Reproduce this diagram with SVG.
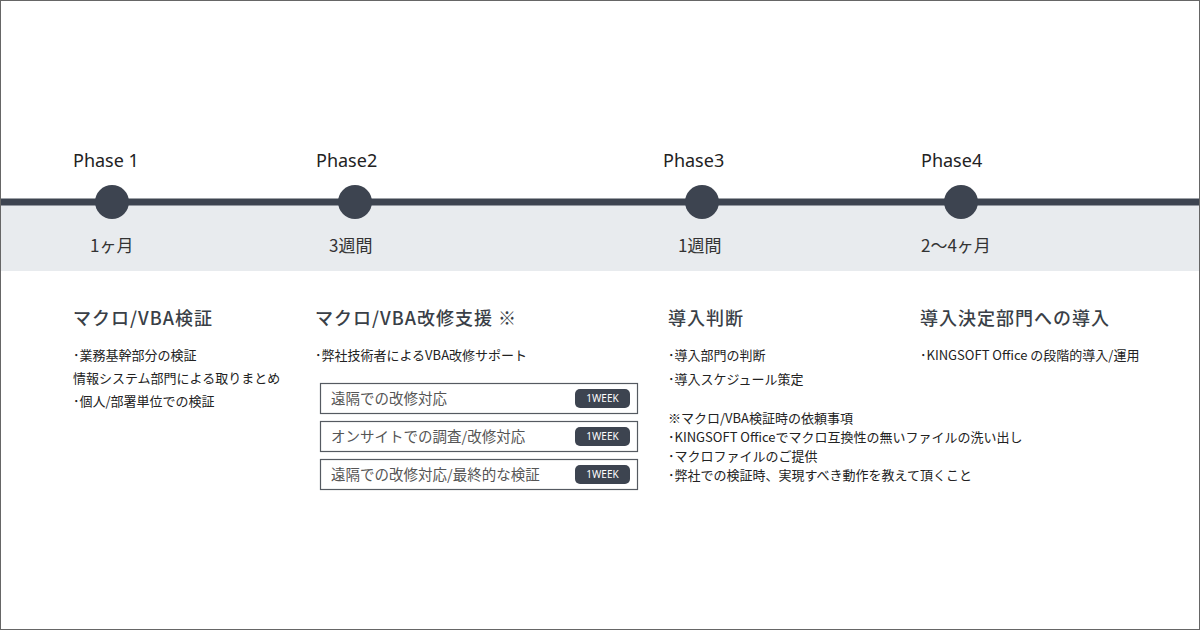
<svg xmlns="http://www.w3.org/2000/svg" width="1200" height="630" viewBox="0 0 1200 630">
<style>
text{font-family:"Noto Sans CJK JP","Noto Sans",sans-serif;fill:#3a3f47}
.ph{font-family:"Noto Sans","Noto Sans CJK JP",sans-serif;font-size:18px;fill:#222}
.dur{font-size:17px;fill:#333}
.h{font-size:18px;font-weight:500;fill:#3a3f47;letter-spacing:1px}
.b{font-size:13px;fill:#222}
.box{fill:#fff;stroke:#555a61;stroke-width:1.2}
.bt{font-size:14.5px;fill:#555}
.tag{fill:#3d4450}
.tt{font-family:"Noto Sans",sans-serif;font-size:10px;fill:#fff}
.dot{fill:#3d4450}
</style>
<rect x="0.5" y="0.5" width="1199" height="629" fill="#fff" stroke="#666" stroke-width="1"/>
<rect x="1" y="204" width="1198" height="67" fill="#e8ebee"/>
<g id="connectors"><line x1="1" y1="202" x2="1199" y2="202" stroke="#3d4450" stroke-width="7"/></g>
<g id="phase1">
<text class="ph" x="73" y="167">Phase 1</text>
<circle class="dot" cx="112" cy="202" r="17"/>
<text class="dur" x="90" y="252">1ヶ月</text>
<text class="h" x="73" y="325">マクロ/VBA検証</text>
<text class="b" x="73" y="360">･業務基幹部分の検証</text>
<text class="b" x="73" y="383">情報システム部門による取りまとめ</text>
<text class="b" x="73" y="406">･個人/部署単位での検証</text>
</g>
<g id="phase2">
<text class="ph" x="316" y="167">Phase2</text>
<circle class="dot" cx="355" cy="202" r="17"/>
<text class="dur" x="329" y="252">3週間</text>
<text class="h" x="315" y="325">マクロ/VBA改修支援 ※</text>
<text class="b" x="315" y="360">･弊社技術者によるVBA改修サポート</text>
<rect class="box" x="320.5" y="383.5" width="317" height="30"/>
<text class="bt" x="331" y="404">遠隔での改修対応</text>
<rect class="tag" x="575" y="389" width="55" height="19" rx="5"/>
<text class="tt" x="602.5" y="402" text-anchor="middle">1WEEK</text>
<rect class="box" x="320.5" y="421.5" width="317" height="30"/>
<text class="bt" x="331" y="442">オンサイトでの調査/改修対応</text>
<rect class="tag" x="575" y="427" width="55" height="19" rx="5"/>
<text class="tt" x="602.5" y="440" text-anchor="middle">1WEEK</text>
<rect class="box" x="320.5" y="459.5" width="317" height="30"/>
<text class="bt" x="331" y="480">遠隔での改修対応/最終的な検証</text>
<rect class="tag" x="575" y="465" width="55" height="19" rx="5"/>
<text class="tt" x="602.5" y="478" text-anchor="middle">1WEEK</text>
</g>
<g id="phase3">
<text class="ph" x="663" y="167">Phase3</text>
<circle class="dot" cx="702" cy="202" r="17"/>
<text class="dur" x="678" y="252">1週間</text>
<text class="h" x="668" y="325">導入判断</text>
<text class="b" x="668" y="360">･導入部門の判断</text>
<text class="b" x="668" y="384">･導入スケジュール策定</text>
<text class="b" x="668" y="423">※マクロ/VBA検証時の依頼事項</text>
<text class="b" x="668" y="442">･KINGSOFT Officeでマクロ互換性の無いファイルの洗い出し</text>
<text class="b" x="668" y="461">･マクロファイルのご提供</text>
<text class="b" x="668" y="480">･弊社での検証時、実現すべき動作を教えて頂くこと</text>
</g>
<g id="phase4">
<text class="ph" x="921" y="167">Phase4</text>
<circle class="dot" cx="961" cy="202" r="17"/>
<text class="dur" x="921" y="252">2～4ヶ月</text>
<text class="h" x="920" y="325">導入決定部門への導入</text>
<text class="b" x="920" y="360">･KINGSOFT Office の段階的導入/運用</text>
</g>
</svg>
